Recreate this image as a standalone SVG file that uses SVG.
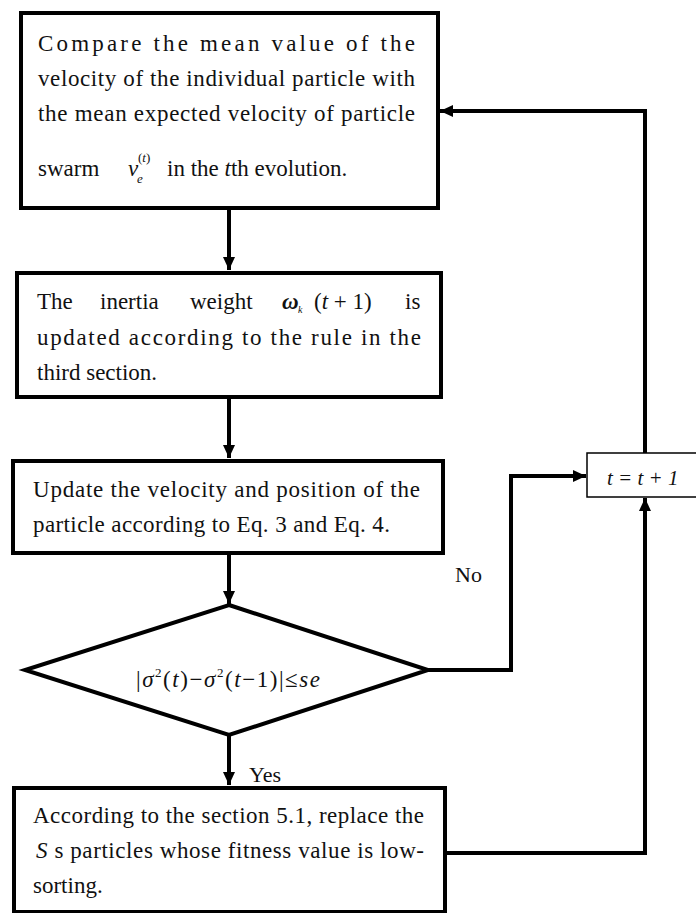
<svg xmlns="http://www.w3.org/2000/svg" width="696" height="913" viewBox="0 0 696 913">
<defs>
<style>
.box{fill:#fff;stroke:#000;stroke-width:4}
.thin{fill:#fff;stroke:#000;stroke-width:1.5}
.t{font-family:"Liberation Serif","Times New Roman",serif;font-size:23px;fill:#111}
.lab{font-family:"Liberation Serif","Times New Roman",serif;font-size:22px;fill:#111}
.sm{font-size:13px}
.i{font-style:italic}
.c{fill:none;stroke:#000;stroke-width:4}
</style>
<marker id="ah" markerUnits="userSpaceOnUse" markerWidth="14" markerHeight="14" refX="13" refY="7" orient="auto">
<path d="M0,1 L13,7 L0,13 z" fill="#000"/>
</marker>
</defs>
<rect width="696" height="913" fill="#fff"/>

<g id="connectors">
<path class="c" d="M229,210 V270" marker-end="url(#ah)"/>
<path class="c" d="M229,399 V458" marker-end="url(#ah)"/>
<path class="c" d="M229,555 V604" marker-end="url(#ah)"/>
<path class="c" d="M229,734 V785" marker-end="url(#ah)"/>
<path class="c" d="M428,670 H511 V476 H586" marker-end="url(#ah)"/>
<path class="c" d="M446,853 H645 V498" marker-end="url(#ah)"/>
<path class="c" d="M645,453 V111 H440" marker-end="url(#ah)"/>
<text class="lab" x="455" y="582">No</text>
<text class="lab" x="249" y="782">Yes</text>
</g>

<g id="node1">
<rect class="box" x="21" y="13" width="417" height="195"/>
<text class="t" x="38" y="51" textLength="377" lengthAdjust="spacing">Compare the mean value of the</text>
<text class="t" x="38" y="86" textLength="377" lengthAdjust="spacing">velocity of the individual particle with</text>
<text class="t" x="38" y="121" textLength="377" lengthAdjust="spacing">the mean expected velocity of particle</text>
<text class="t" x="38" y="176">swarm</text>
<text class="t i" x="128" y="176">v</text>
<text class="t i sm" x="137" y="183">e</text>
<text class="t sm" x="138" y="162">(<tspan class="i">t</tspan>)</text>
<text class="t" x="167" y="176">in the <tspan class="i">t</tspan>th evolution.</text>
</g>

<g id="node2">
<rect class="box" x="17" y="273" width="424" height="124"/>
<text class="t" x="37" y="309">The</text>
<text class="t" x="100" y="309">inertia</text>
<text class="t" x="190" y="309">weight</text>
<text class="t i" x="282" y="309" font-weight="bold">ω</text>
<text class="t i" x="298" y="313" style="font-size:10px">k</text>
<text class="t" x="314" y="309">(<tspan class="i">t</tspan> + 1)</text>
<text class="t" x="405" y="309">is</text>
<text class="t" x="37" y="345" textLength="384" lengthAdjust="spacing">updated according to the rule in the</text>
<text class="t" x="37" y="380">third section.</text>
</g>

<g id="node3">
<rect class="box" x="13" y="461" width="430" height="92"/>
<text class="t" x="33" y="497" textLength="387" lengthAdjust="spacing">Update the velocity and position of the</text>
<text class="t" x="33" y="532" textLength="357" lengthAdjust="spacing">particle according to Eq. 3 and Eq. 4.</text>
</g>

<g id="node4">
<path class="box" d="M229,605 L428,670 L229,735 L25,670 Z"/>
<text class="t" x="136" y="687" textLength="184" lengthAdjust="spacing">|<tspan class="i">σ</tspan><tspan class="sm" dy="-10">2</tspan><tspan dy="10">(</tspan><tspan class="i">t</tspan>)−<tspan class="i">σ</tspan><tspan class="sm" dy="-10">2</tspan><tspan dy="10">(</tspan><tspan class="i">t</tspan>−1)|≤<tspan class="i">se</tspan></text>
</g>

<g id="node5">
<rect class="box" x="14" y="788" width="431" height="124"/>
<text class="t" x="33" y="823" textLength="391" lengthAdjust="spacing">According to the section 5.1, replace the</text>
<text class="t" x="36" y="858" textLength="388" lengthAdjust="spacing"><tspan class="i">S</tspan> s particles whose fitness value is low-</text>
<text class="t" x="33" y="893">sorting.</text>
</g>

<g id="node6">
<rect class="thin" x="587" y="453" width="120" height="44"/>
<text class="lab i" x="607" y="485" style="font-size:21px">t = t + 1</text>
</g>
</svg>
